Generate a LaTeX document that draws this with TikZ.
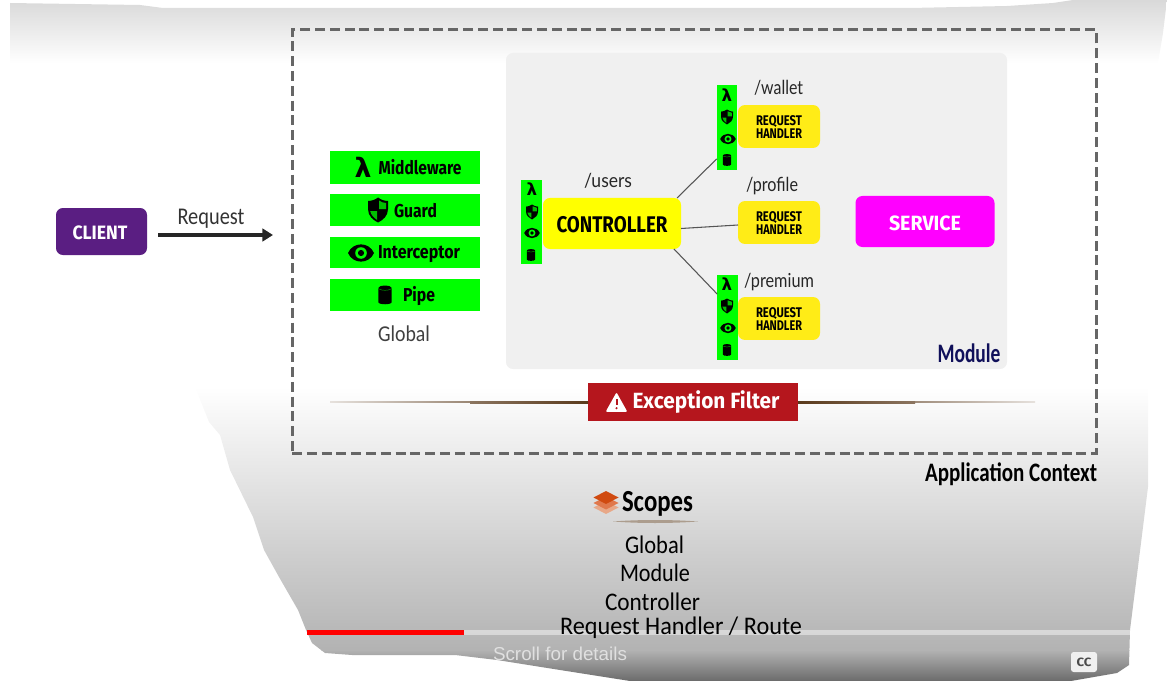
\documentclass[tikz,border=0pt]{standalone}
\usepackage{fontspec}
\usepackage{graphicx}
\usetikzlibrary{arrows.meta,calc}
\setmainfont{Lato}
\newfontfamily\hand{Carlito}
\newfontfamily\heavy{Fira Sans}
\newfontfamily\plain{Lato}
\newfontfamily\yt{Liberation Sans}
\newfontfamily\greek{DejaVu Sans}
\newlength\pxu
\pxu=.75pt
% #1 target width in px, #2 font size in pt, #3 text
\newcommand\fw[3]{\resizebox{#1\pxu}{\height}{\fontsize{#2}{#2}\selectfont #3}}
\definecolor{clientc}{HTML}{5A1E82}
\definecolor{modc}{HTML}{F0F0F0}
\definecolor{handc}{HTML}{FFEC17}
\definecolor{ctrlc}{HTML}{FFFF00}
\definecolor{greenc}{HTML}{00FF00}
\definecolor{servc}{HTML}{FF00FF}
\definecolor{excc}{HTML}{B5161D}
\definecolor{dashc}{HTML}{666666}
\definecolor{linec}{HTML}{555555}
\definecolor{brownc}{HTML}{5A3A1C}
\definecolor{modtxt}{HTML}{10105A}
\definecolor{layerA}{HTML}{D04A10}
\definecolor{layerB}{HTML}{E0784C}
\definecolor{layerC}{HTML}{E8A888}
\tikzset{
  x=.75pt,y=-.75pt,
  lab/.style={inner sep=0pt,outer sep=0pt,text=black},
  rbox/.style={rounded corners=5.2pt,inner sep=0pt,outer sep=0pt,minimum width=#1},
  greenbar/.style={fill=greenc,inner sep=0pt,outer sep=0pt,minimum width=112.5pt},
  strip/.style={fill=greenc,inner sep=0pt,outer sep=0pt,minimum width=15.4pt,minimum height=63.6pt},
  handlerbox/.style={fill=handc,rbox=61.5pt,minimum height=32.2pt},
  handlertxt/.style={lab,align=center,font=\heavy\bfseries\fontsize{9.75}{9.75}\selectfont},
  link/.style={draw=linec,line width=.8pt},
  shieldicon/.pic={
    \fill[black] (0,-12.5) .. controls (3,-10) and (7,-9) .. (10,-9) -- (10,-1) .. controls (10,6) and (5,10) .. (0,12.5)
       .. controls (-5,10) and (-10,6) .. (-10,-1) -- (-10,-9) .. controls (-7,-9) and (-3,-10) .. (0,-12.5) -- cycle;
    \fill[greenc!75!black] (1,-9.5) .. controls (3,-8) and (5.5,-7) .. (8,-7) -- (8,-1) -- (1,-1) -- cycle;
    \fill[greenc!75!black] (-1,1) -- (-7.8,1) .. controls (-7,5) and (-4,8) .. (-1,9.8) -- cycle;
  },
  eyeicon/.pic={
    \fill[black] (-13,0) .. controls (-8,-11.5) and (8,-11.5) .. (13,0) .. controls (8,11.5) and (-8,11.5) .. (-13,0) -- cycle;
    \fill[greenc] (0,0) circle[radius=5.8];
    \fill[black] (0,0) circle[radius=3.1];
  },
  canicon/.pic={
    \fill[black] (-7,-7) -- (-7,7.5) .. controls (-7,10.5) and (7,10.5) .. (7,7.5) -- (7,-7) -- cycle;
    \fill[black] (0,-7.5) circle[x radius=7,y radius=2.4];
    \draw[greenc!60!black,line width=.35pt] (-6,-6.2) .. controls (-3,-4.5) and (3,-4.5) .. (6,-6.2);
  },
  layer/.pic={
    \fill (-12.5,0) -- (0,-6.5) -- (12.5,0) -- (0,6.5) -- cycle;
  },
}
\begin{document}
\begin{tikzpicture}
\useasboundingbox (0,0) rectangle (1167,681);
% page silhouette: top fade
\begin{scope}
  \clip (10,3) -- (140,5) -- (163,8) -- (910,8) -- (1007,6) -- (1053,3) -- (1073,0) -- (1167,0) -- (1163,33) -- (1158,63) -- (10,63) -- cycle;
  \shade[top color=black!15,bottom color=white] (0,0) rectangle (1167,63);
\end{scope}
% page silhouette: bottom fade
\begin{scope}
  \clip (195,387) -- (209,422) -- (220,435) -- (230,470) -- (253,517) -- (264,550) -- (279,577) -- (298,610) -- (306,630) -- (312,643) -- (325,653) -- (352,655) -- (455,655) -- (497,660) -- (560,670) -- (630,681) -- (1071,681) -- (1117,673) -- (1129,665) -- (1130,630) -- (1141,543) -- (1148,487) -- (1148,387) -- cycle;
  \shade[top color=white,bottom color=black!30] (0,387) rectangle (1167,650);
  \shade[top color=black!30,bottom color=black!58] (0,650) rectangle (1167,681);
\end{scope}
% application context
\node[draw=dashc,line width=2.25pt,dash pattern=on 7.5pt off 3.6pt,inner sep=0pt,outer sep=0pt,minimum width=603pt,minimum height=317.25pt] (appbox) at (694,241.5) {};
\node[lab,font=\hand\bfseries] (applabel) at (1011,474) {\fw{172}{20}{Application Context}};
% module
\node[fill=modc,rbox=375.75pt,minimum height=237pt] (modbox) at (756.5,211) {};
\node[lab,text=modtxt,font=\hand\bfseries] (modlabel) at (969,353) {\fw{63}{20}{Module}};
% client and request
\node[fill=clientc,rbox=68.25pt,minimum height=35.25pt] (client) at (101.5,231.5) {};
\node[lab,text=white,font=\heavy\bfseries] (clienttxt) at (100,233) {\fw{55}{14.5}{CLIENT}};
\node[lab,text=black!80,font=\hand] (reqlabel) at (211,219) {\fw{67}{18}{Request}};
\coordinate (reqstart) at (158,235);
\coordinate (reqend) at (273,235);
\draw[black!85,line width=2.4pt,-{Triangle[length=8pt,width=9.5pt]}] (reqstart) -- (reqend);
% global bars
\node[greenbar,minimum height=24.75pt] (bar1) at (405,167.5) {};
\node[greenbar,minimum height=24pt] (bar2) at (405,210) {};
\node[greenbar,minimum height=23.25pt] (bar3) at (405,252.5) {};
\node[greenbar,minimum height=24pt] (bar4) at (405,295) {};
\node[lab,font=\greek\bfseries] (lam0) at (363,167) {\fontsize{20}{20}\selectfont λ};
\pic at (378,210) {shieldicon};
\pic at (361,253) {eyeicon};
\pic[scale=.95] at (385,295) {canicon};
\node[lab,font=\heavy\bfseries] (t1) at (420,167.5) {\fw{83}{14}{Middleware}};
\node[lab,font=\heavy\bfseries] (t2) at (415.5,211) {\fw{43}{14}{Guard}};
\node[lab,font=\heavy\bfseries] (t3) at (419,254.5) {\fw{82}{14}{Interceptor}};
\node[lab,font=\heavy\bfseries] (t4) at (419,296.5) {\fw{32}{14}{Pipe}};
\node[lab,text=black!75,font=\hand] (globallabel) at (404,334) {\fw{52}{17}{Global}};
% controller
\node[strip] (s0) at (531.5,222) {};
\node[strip] (s1) at (727,127.5) {};
\node[strip] (s3) at (727.5,317.5) {};
\node[fill=ctrlc,rbox=103.5pt,minimum height=38.25pt] (ctrl) at (612,223.5) {};
\node[lab,font=\heavy\bfseries] (ctrltxt) at (612,225) {\fw{111}{17}{CONTROLLER}};
\node[handlerbox] (h1) at (779,126.5) {};
\node[handlerbox] (h2) at (779,222.5) {};
\node[handlerbox] (h3) at (779,318.5) {};
\node[handlertxt] (h1t) at (779,127.5) {\fw{46}{10.5}{REQUEST}\\\fw{46}{10.5}{HANDLER}};
\node[handlertxt] (h2t) at (779,223.5) {\fw{46}{10.5}{REQUEST}\\\fw{46}{10.5}{HANDLER}};
\node[handlertxt] (h3t) at (779,319.5) {\fw{46}{10.5}{REQUEST}\\\fw{46}{10.5}{HANDLER}};
\draw[link] ($(ctrl.north east)+(-4,0)$) -- ($(s1.south west)+(0,-11)$);
\draw[link] ($(ctrl.east)+(0,5)$) -- ($(h2.west)+(0,2.5)$);
\draw[link] ($(ctrl.south east)+(-7,0)$) -- ($(s3.north west)+(0,19)$);
% strip icons
\node[lab,font=\greek\bfseries] (lam1) at (532,189.5) {\fontsize{12.5}{12.5}\selectfont λ};
\pic[scale=.6] at (532,212) {shieldicon};
\pic[scale=.6] at (532,233) {eyeicon};
\pic[scale=.6] at (531,255) {canicon};
\node[lab,font=\greek\bfseries] (lam2) at (727,95.5) {\fontsize{12.5}{12.5}\selectfont λ};
\pic[scale=.6] at (727,117) {shieldicon};
\pic[scale=.6] at (728,139) {eyeicon};
\pic[scale=.6] at (727,160) {canicon};
\node[lab,font=\greek\bfseries] (lam3) at (727,284.5) {\fontsize{12.5}{12.5}\selectfont λ};
\pic[scale=.6] at (727,306) {shieldicon};
\pic[scale=.6] at (728,328) {eyeicon};
\pic[scale=.6] at (727,350) {canicon};
% route labels
\node[lab,text=black!85] (usr) at (608,181) {\fw{48}{14.5}{/users}};
\node[lab,text=black!85] (wal) at (778.5,88) {\fw{49}{14.5}{/wallet}};
\node[lab,text=black!85] (pro) at (772,186) {\fw{52}{14.5}{/profile}};
\node[lab,text=black!85] (pre) at (779,282.5) {\fw{70}{14.5}{/premium}};
% service
\node[fill=servc,rbox=104.25pt,minimum height=38.25pt] (serv) at (925,221.5) {};
\node[lab,text=white,font=\heavy\bfseries] (servtxt) at (925,223) {\fw{72}{15.5}{SERVICE}};
% exception filter
\coordinate (ruleL) at (330,402);
\coordinate (ruleR) at (1035,402);
\node[fill=excc,inner sep=0pt,outer sep=0pt,minimum width=157.5pt,minimum height=28.5pt] (exc) at (693,402) {};
\shade[left color=brownc!15,middle color=brownc!90,right color=brownc] (ruleL) ++(0,-.6) rectangle ($(exc.west)+(0,.6)$);
\shade[left color=brownc!70,right color=brownc] (470,401) rectangle ($(exc.west)+(0,1.2)$);
\shade[left color=brownc,middle color=brownc!90,right color=brownc!15] (ruleR) ++(0,-.6) rectangle ($(exc.east)+(0,.6)$);
\shade[left color=brownc,right color=brownc!70] (915,401) rectangle ($(exc.east)+(0,1.2)$);
\fill[white,line join=round,draw=white,line width=1.2pt] (616.5,394) -- (626,411) -- (607,411) -- cycle;
\draw[excc,line width=1.5pt] (616.5,399) -- (616.5,405);
\fill[excc] (616.5,408.2) circle[radius=1.2];
\node[lab,text=white,font=\heavy\bfseries] (exctxt) at (706,402.5) {\fw{147}{16.5}{Exception Filter}};
% scopes
\pic[color=layerC] at (606,507.5) {layer};
\pic[color=layerB] at (606,503) {layer};
\pic[color=layerA] at (606,497.5) {layer};
\node[lab,font=\hand\bfseries] (scopes) at (657.5,504) {\fw{71}{23}{Scopes}};
\coordinate (ulL) at (613,521.5);
\coordinate (ulR) at (698,521.5);
\fill[brownc!50!white] (ulL) .. controls (640,519.5) and (670,519.5) .. (ulR) .. controls (670,523.5) and (640,523.5) .. (ulL) -- cycle;
\node[lab,font=\hand] (sc1) at (654.5,545) {\fw{59}{19}{Global}};
\node[lab,font=\hand] (sc2) at (655,573) {\fw{70}{19}{Module}};
\node[lab,font=\hand] (sc3) at (652.5,601.5) {\fw{95}{19}{Controller}};
% player bar
\node[fill=white,fill opacity=.45,inner sep=0pt,outer sep=0pt,minimum width=499.5pt,minimum height=3.75pt] (track) at (797,632.5) {};
\node[fill=red,inner sep=0pt,outer sep=0pt,minimum width=117.75pt,minimum height=3.75pt] (prog) at (385.5,632.5) {};
\node[lab,font=\hand] (sc4) at (681,627.5) {\fw{242}{19}{Request Handler / Route}};
\node[lab,text=black!12,font=\yt] (scroll) at (560,653.5) {\fw{134}{14}{Scroll for details}};
\node[fill=black!6,rounded corners=2pt,inner sep=0pt,outer sep=0pt,minimum width=19.5pt,minimum height=15pt,font=\heavy\bfseries,text=black!70] (cc) at (1084,662) {\fw{15}{9}{CC}};
\end{tikzpicture}
\end{document}
